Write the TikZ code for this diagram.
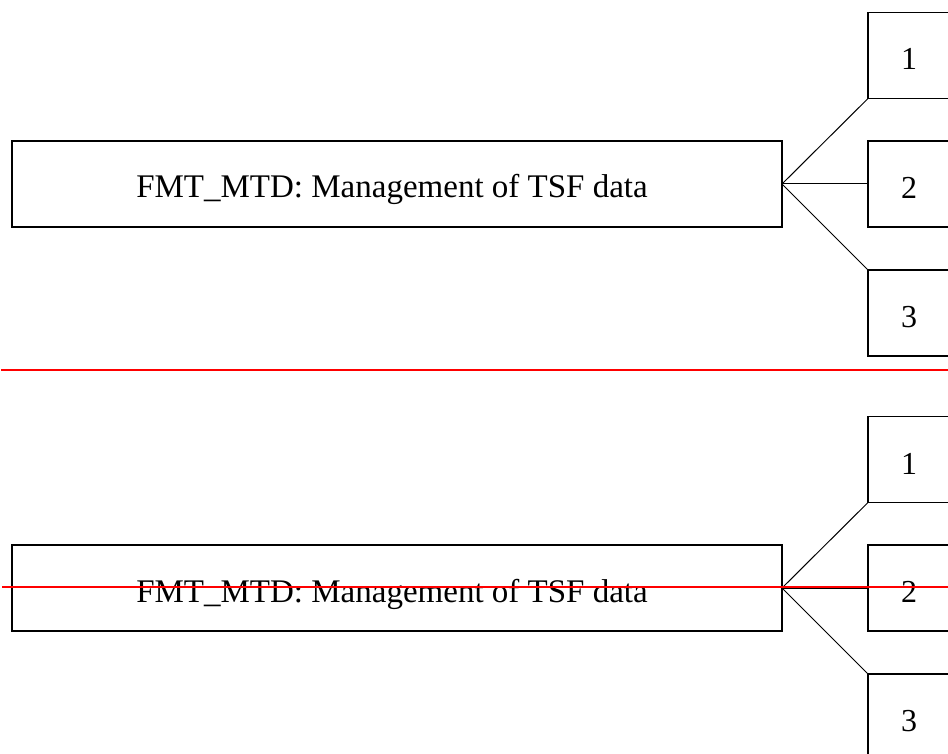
\documentclass[tikz,border=0pt]{standalone}
\usepackage{fontspec}
\setmainfont{Liberation Serif}
\newcommand{\bigtext}{\raisebox{-14pt}[0pt][0pt]{FMT\_MTD: Management of TSF data}\hspace*{10pt}}
\newcommand{\digtext}[1]{\raisebox{-14.5pt}[0pt][0pt]{#1}}
\begin{document}
\begin{tikzpicture}[x=1pt,y=-1pt,
  bigbox/.style={draw=black,line width=1.3pt,minimum width=770pt,minimum height=86pt,inner sep=0pt,outer sep=0pt,anchor=north west,font=\fontsize{33}{38}\selectfont},
  smallbox/.style={draw=black,line width=1.3pt,minimum width=82pt,minimum height=86pt,inner sep=0pt,outer sep=0pt,anchor=north west,font=\fontsize{32}{38}\selectfont},
  conn/.style={draw=black,line width=1pt},
  redline/.style={draw=red,line width=2pt}]
\useasboundingbox (0,0) rectangle (948,754);
\clip (0,0) rectangle (948,754);
% top copy
\node[bigbox] (bigA) at (12,141) {\bigtext};
\node[smallbox] (a1) at (868,12.5) {\digtext{1}};
\node[smallbox] (a2) at (868,141) {\digtext{2}};
\node[smallbox] (a3) at (868,270) {\digtext{3}};
\draw[conn] (bigA.east) -- (a1.south west);
\draw[conn] (bigA.east) -- (a2.west);
\draw[conn] (bigA.east) -- (a3.north west);
% bottom copy
\node[bigbox] (bigB) at (12,545) {\bigtext};
\node[smallbox] (b1) at (868,416.5) {\digtext{1}};
\node[smallbox] (b2) at (868,545) {\digtext{2}};
\node[smallbox] (b3) at (868,674) {\digtext{3}};
\draw[conn] (bigB.east) -- (b1.south west);
\draw[conn] (bigB.east) -- (b2.west);
\draw[conn] (bigB.east) -- (b3.north west);
% red lines
\coordinate (r1a) at (1,369.5);
\coordinate (r1b) at (948,369.5);
\coordinate (r2a) at (2,587);
\coordinate (r2b) at (948,587);
\draw[redline] (r1a) -- (r1b);
\draw[redline] (r2a) -- (r2b);
\end{tikzpicture}
\end{document}
